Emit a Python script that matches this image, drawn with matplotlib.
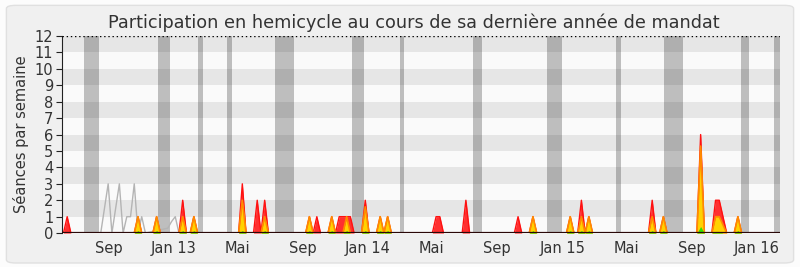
import matplotlib
matplotlib.use("Agg")
import matplotlib.pyplot as plt
from matplotlib.patches import FancyBboxPatch
import numpy as np
import pandas as pd

# weekly series, week 0 = week of 2012-06-08
start_date = "2012-06-08"
n_weeks = 193

# weeks with activity and the stacked values
weeks = [1, 20, 25, 32, 35, 48, 52, 54, 66, 68, 72, 74, 75, 76, 77, 81, 85, 87,
         100, 101, 108, 122, 126, 136, 139, 141, 158, 161, 171, 175, 176, 177, 181]
presences = [1, 1, 1, 2, 1, 3, 2, 2, 1, 1, 1, 1, 1, 1, 1, 2, 1, 1,
             1, 1, 2, 1, 1, 1, 2, 1, 2, 1, 6, 2, 2, 1, 1]
interventions = [0, 1, 1, 1, 1, 2, 0, 1, 1, 0, 1, 0, 0, 1, 0, 1.6, 1, 1,
                 0, 0, 0, 0, 1, 1, 1, 1, 1, 1, 5.3, 1, 1, 0.5, 1]
questions = [0, 0.15, 0.15, 0.15, 0.15, 0.15, 0, 0.15, 0.15, 0, 0.15, 0, 0, 0.15, 0, 0.15, 0.15, 0.15,
             0, 0, 0, 0, 0.15, 0.15, 0.15, 0.15, 0.15, 0.15, 0.4, 0.1, 0.1, 0, 0.15]

# thin grey line (weeks / values)
grey_weeks = [10, 11, 12, 13, 14, 15, 16, 17, 18, 19, 20, 21, 22, 28, 29, 30, 31]
grey_vals = [0, 1.5, 3, 0, 1.5, 3, 0, 1, 1, 3, 0, 1, 0, 0.3, 0.7, 1, 0]

# parliamentary holidays (start week, end week)
vacances = [(5.5, 9.5), (25.4, 28.6), (36.1, 37.4), (43.9, 45.2), (56.7, 61.8),
            (77.4, 80.6), (90.3, 91.4), (109.9, 112.3), (129.7, 133.7),
            (148.2, 149.6), (161.1, 166.2), (181.8, 184.0), (190.6, 193.0)]

tick_dates = ["2012-09-01", "2013-01-01", "2013-05-01", "2013-09-01", "2014-01-01",
              "2014-05-01", "2014-09-01", "2015-01-01", "2015-05-01", "2015-09-01",
              "2016-01-01"]
tick_labels = ["Sep", "Jan 13", "Mai", "Sep", "Jan 14", "Mai", "Sep", "Jan 15",
               "Mai", "Sep", "Jan 16"]


def full(idx, vals):
    arr = np.zeros(n_weeks)
    arr[idx] = vals
    return arr


x = np.arange(n_weeks)
red = full(weeks, presences)
yellow = full(weeks, interventions)
green = full(weeks, questions)

fig = plt.figure(figsize=(8, 2.67), dpi=100)
fig.patch.set_facecolor("#fcfcfc")
fig.patches.append(FancyBboxPatch((0.008, 0.015), 0.984, 0.965,
                                  boxstyle="round,pad=0,rounding_size=0.012",
                                  transform=fig.transFigure, facecolor="#f0f0f0",
                                  edgecolor="#e0e0e0", lw=1, zorder=-10))

ax = fig.add_axes([0.077, 0.127, 0.898, 0.738])
ax.set_facecolor("#fafafa")

for a, b in vacances:
    ax.axvspan(a, b, color="#bebebe", lw=0, zorder=0.5)
for y0 in range(1, 12, 2):
    ax.axhspan(y0, y0 + 1, color="black", alpha=0.08, lw=0, zorder=0.6)

ax.plot(grey_weeks, grey_vals, color="#b4b4b4", lw=1, zorder=1)

ax.fill_between(x, 0, red, color="#ff3030", lw=0, zorder=2)
ax.plot(x, red, color="#ff1010", lw=1, zorder=2.1)
ax.fill_between(x, 0, yellow, color="#ffd200", lw=0, zorder=3)
ax.plot(x, yellow, color="#ff8a00", lw=1.2, zorder=3.1)
ax.fill_between(x, 0, green, color="#33e000", lw=0, zorder=4)

ax.axhline(0, color="#2a0808", lw=1.6, zorder=5)
ax.axhline(12, color="black", lw=1, ls=(0, (1, 2)), zorder=5)

t0 = pd.Timestamp(start_date)
ticks = [(pd.Timestamp(d) - t0).days / 7 for d in tick_dates]
ax.set_xticks(ticks)
ax.set_xticklabels(tick_labels)
ax.set_xlim(-0.5, 192.3)
ax.set_ylim(0, 12)
ax.set_yticks(range(13))

for s in ["top", "right", "bottom"]:
    ax.spines[s].set_visible(False)
ax.spines["left"].set_color("#222222")
ax.tick_params(axis="x", length=0, pad=6, labelsize=10.5, colors="#333333")
ax.tick_params(axis="y", length=4, width=0.8, pad=2, labelsize=10.5,
               colors="#333333")
ax.tick_params(axis="y", color="#222222")

ax.set_ylabel("Séances par semaine", fontsize=10.5, color="#333333", labelpad=4)
ax.set_title("Participation en hemicycle au cours de sa dernière année de mandat",
             fontsize=12.7, color="#333333", pad=6, x=0.49)

fig.savefig("out.png", dpi=100, facecolor=fig.get_facecolor())
